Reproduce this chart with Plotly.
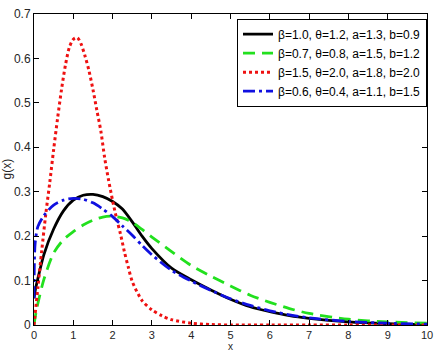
import plotly.graph_objects as go

# x grids and values
x_black = [0, 0.02, 0.05, 0.1, 0.25, 0.5, 0.75, 1.0, 1.25, 1.5, 1.75, 2.0, 2.25, 2.5, 2.75, 3.0, 3.5, 4.0, 4.5, 5.0, 5.5, 6.0, 6.5, 7.0, 8.0, 9.0, 10.0]
y_black = [0.06, 0.072, 0.086, 0.105, 0.158, 0.216, 0.257, 0.281, 0.292, 0.294, 0.289, 0.278, 0.261, 0.232, 0.200, 0.172, 0.128, 0.102, 0.079, 0.058, 0.041, 0.030, 0.021, 0.015, 0.007, 0.003, 0.001]

x_green = [0, 0.05, 0.1, 0.25, 0.5, 0.75, 1.0, 1.25, 1.5, 1.75, 2.0, 2.25, 2.5, 2.75, 3.0, 3.5, 4.0, 4.5, 5.0, 5.5, 6.0, 6.5, 7.0, 8.0, 9.0, 10.0]
y_green = [0.0, 0.028, 0.049, 0.102, 0.162, 0.192, 0.210, 0.225, 0.236, 0.243, 0.245, 0.241, 0.231, 0.215, 0.198, 0.165, 0.134, 0.110, 0.088, 0.067, 0.051, 0.037, 0.026, 0.013, 0.007, 0.004]

x_red = [0, 0.1, 0.2, 0.3, 0.4, 0.5, 0.6, 0.7, 0.8, 0.9, 1.0, 1.1, 1.2, 1.3, 1.4, 1.5, 1.6, 1.7, 1.8, 1.9, 2.0, 2.1, 2.2, 2.3, 2.4, 2.5, 2.75, 3.0, 3.25, 3.5, 4.0, 4.5, 5.0, 6.0, 7.0, 8.0, 9.0, 10.0]
y_red = [0.0, 0.085, 0.17, 0.25, 0.32, 0.395, 0.465, 0.53, 0.585, 0.625, 0.643, 0.647, 0.632, 0.605, 0.572, 0.530, 0.483, 0.437, 0.375, 0.325, 0.280, 0.240, 0.205, 0.165, 0.130, 0.098, 0.055, 0.034, 0.021, 0.012, 0.004, 0.001, 0.0, 0.0, 0.0, 0.0, 0.0, 0.0]

x_blue = [0, 0.01, 0.03, 0.1, 0.25, 0.5, 0.75, 1.0, 1.25, 1.5, 1.75, 2.0, 2.25, 2.5, 2.75, 3.0, 3.5, 4.0, 4.5, 5.0, 5.5, 6.0, 6.5, 7.0, 8.0, 9.0, 10.0]
y_blue = [0.06, 0.14, 0.185, 0.222, 0.246, 0.270, 0.281, 0.285, 0.283, 0.275, 0.261, 0.244, 0.223, 0.202, 0.179, 0.158, 0.123, 0.099, 0.078, 0.059, 0.044, 0.032, 0.023, 0.016, 0.008, 0.004, 0.002]

names = [
    "β=1.0, θ=1.2, a=1.3, b=0.9",
    "β=0.7, θ=0.8, a=1.5, b=1.2",
    "β=1.5, θ=2.0, a=1.8, b=2.0",
    "β=0.6, θ=0.4, a=1.1, b=1.5",
]

x_ticks = list(range(0, 11))
y_ticks = [0, 0.1, 0.2, 0.3, 0.4, 0.5, 0.6, 0.7]
y_ticklabels = ["0", "0.1", "0.2", "0.3", "0.4", "0.5", "0.6", "0.7"]
x_title = "x"
y_title = "g(x)"

FONT = "Liberation Sans, Arial"

fig = go.Figure()
fig.add_trace(go.Scatter(x=x_black, y=y_black, mode="lines", name=names[0],
                         line=dict(color="black", width=2.8, shape="spline", smoothing=0.8)))
fig.add_trace(go.Scatter(x=x_green, y=y_green, mode="lines", name=names[1],
                         line=dict(color="#22e01e", width=2.8, dash="12px,7px", shape="spline", smoothing=0.8)))
fig.add_trace(go.Scatter(x=x_red, y=y_red, mode="lines", name=names[2],
                         line=dict(color="#ee1111", width=3, dash="3px,3px", shape="spline", smoothing=0.8)))
fig.add_trace(go.Scatter(x=x_blue, y=y_blue, mode="lines", name=names[3],
                         line=dict(color="#1010e0", width=2.8, dash="12px,4px,3px,4px", shape="spline", smoothing=0.8)))

axis_common = dict(showline=True, linecolor="black", linewidth=1, mirror="ticks",
                   ticks="inside", ticklen=5, tickcolor="black", showgrid=False,
                   zeroline=False, automargin=False)

fig.update_xaxes(range=[0, 10], tickvals=x_ticks, **axis_common,
                 tickfont=dict(family=FONT, size=11, color="#262626"))
fig.update_yaxes(range=[0, 0.7], tickvals=y_ticks, ticktext=y_ticklabels, **axis_common,
                 tickfont=dict(family=FONT, size=12, color="#262626"))

fig.add_annotation(text=x_title, xref="paper", yref="paper", x=0.5, y=0,
                   xanchor="center", yanchor="bottom", yshift=-28, showarrow=False,
                   borderpad=0, font=dict(family=FONT, size=10, color="#262626"))
fig.add_annotation(text=y_title, xref="paper", yref="paper", x=0, y=0.5,
                   xanchor="center", yanchor="middle", xshift=-28, textangle=-90,
                   showarrow=False, font=dict(family=FONT, size=12, color="#262626"))

fig.update_layout(
    width=436, height=353, autosize=False,
    margin=dict(l=34, r=9, t=14, b=28),
    plot_bgcolor="white", paper_bgcolor="white",
    legend=dict(x=1.0, xanchor="right", y=0.985, yanchor="top",
                bgcolor="white", bordercolor="black", borderwidth=1,
                font=dict(family=FONT, size=12, color="black"),
                tracegroupgap=0),
    showlegend=True,
)

fig.write_html("out.html")
